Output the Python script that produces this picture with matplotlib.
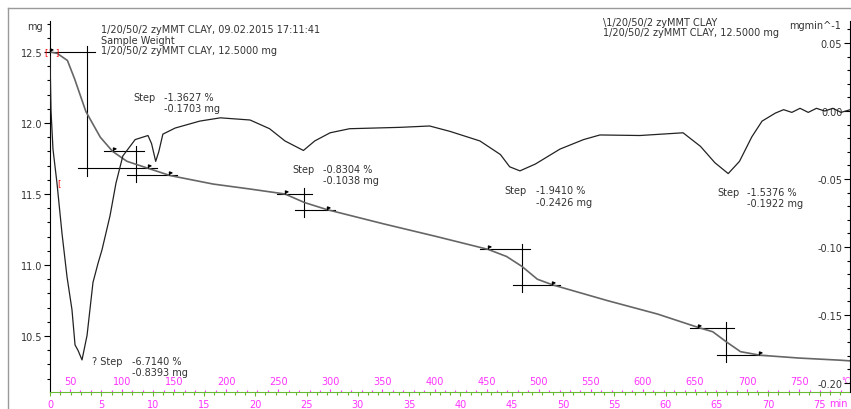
import numpy as np
import matplotlib.pyplot as plt
from matplotlib.ticker import MultipleLocator, FormatStrFormatter
from matplotlib.lines import Line2D
from matplotlib.path import Path

# sample mass (mg) against time (min)
tga_t = [0, 0.7, 1.7, 2.4, 3.5, 4.9, 6.1, 7.5, 9.6, 11.7, 15.9, 19.5, 22.9, 24.8,
         27.0, 32.5, 37.7, 42.7, 44.5, 46.0, 47.5, 49.0, 54.3, 59.2, 63.2, 64.6,
         65.9, 67.3, 69.2, 73.0, 77.0, 78.0]
tga_mg = [12.50, 12.49, 12.44, 12.31, 12.08, 11.90, 11.80, 11.73, 11.68, 11.63,
          11.57, 11.535, 11.50, 11.44, 11.39, 11.29, 11.20, 11.11, 11.06, 10.99,
          10.90, 10.86, 10.75, 10.655, 10.56, 10.53, 10.46, 10.39, 10.365, 10.345,
          10.33, 10.325]

# derivative curve (mg/min)
dtg_t = [0, 0.1, 0.29, 0.68, 1.17, 1.66, 2.14, 2.44, 2.73, 3.12, 3.61, 4.19, 4.68,
         5.07, 5.85, 6.43, 7.1, 7.6, 8.3, 9.55, 9.9, 10.3, 10.6, 11.0, 12.2, 14.6,
         16.6, 19.5, 21.4, 22.9, 24.7, 25.8, 27.3, 29.2, 34.1, 37.0, 39.0, 41.9,
         43.9, 44.8, 45.8, 47.3, 49.7, 52.0, 53.6, 57.5, 61.7, 63.4, 64.8, 66.1,
         67.2, 68.4, 69.4, 70.7, 71.5, 72.3, 73.1, 73.9, 74.7, 75.5, 76.3, 77.1, 78.0]
dtg_v = [0.04, 0.0, -0.028, -0.053, -0.09, -0.122, -0.146, -0.172, -0.176, -0.183,
         -0.165, -0.126, -0.112, -0.102, -0.077, -0.053, -0.033, -0.028, -0.021,
         -0.018, -0.024, -0.037, -0.030, -0.017, -0.0125, -0.0074, -0.005, -0.0066,
         -0.013, -0.022, -0.029, -0.022, -0.016, -0.013, -0.012, -0.011, -0.015,
         -0.022, -0.032, -0.041, -0.044, -0.039, -0.028, -0.021, -0.0176, -0.018,
         -0.016, -0.026, -0.038, -0.046, -0.037, -0.019, -0.0074, -0.0015, 0.001,
         -0.001, 0.002, -0.001, 0.002, 0.0, 0.002, -0.001, 0.001]

# evaluated steps: start, inflection and end times (min)
step_start = [0.0, 6.1, 22.9, 42.7, 63.2]
step_mid = [3.6, 8.4, 24.75, 46.0, 65.9]
step_end = [9.6, 11.6, 27.0, 48.9, 69.1]
step_prefix = ['? Step', 'Step', 'Step', 'Step', 'Step']
step_pct = ['-6.7140', '-1.3627', '-0.8304', '-1.9410', '-1.5376']
step_mass = ['-0.8393', '-0.1703', '-0.1038', '-0.2426', '-0.1922']
label_t = [4.1, 8.1, 23.6, 44.25, 65.0]
value_t = [8.0, 11.1, 26.6, 47.4, 67.9]
label_mg = [10.36, 12.22, 11.71, 11.56, 11.55]

# furnace temperature ticks
temp_ticks = list(range(50, 800, 50))
T0, rate = 30.8, 9.85

W, H = 851, 410
PINK = '#ff33ff'
GREEN = '#66bb33'
TXT = '#333333'
plt.rcParams['font.family'] = 'DejaVu Sans'

fig = plt.figure(figsize=(W / 100, H / 100), dpi=100)
ax = fig.add_axes([50 / W, 17 / H, 800 / W, 371 / H])
ax2 = ax.twinx()


def px(x, y):
    return x / W, 1 - y / H


# outer frame
fig.add_artist(Line2D([8 / W, 8 / W], [0, 1 - 9 / H], color='#999999', lw=1))
fig.add_artist(Line2D([8 / W, 1], [1 - 9 / H, 1 - 9 / H], color='#999999', lw=1))

ax.plot(tga_t, tga_mg, color='#666666', lw=1.2, zorder=3)
ax2.plot(dtg_t, dtg_v, color='#222222', lw=0.9)

ax.set_xlim(0, 77.97)
ax.set_ylim(10.106, 12.718)
ax2.set_ylim(-0.2066, 0.0662)

# step constructions
flag = Path([(0, 0), (0, 1), (0.7, 0.75), (0, 0.5)])
for i in range(len(step_start)):
    ms = np.interp(step_start[i], tga_t, tga_mg)
    me = np.interp(step_end[i], tga_t, tga_mg)
    ax.plot([step_start[i] - 0.8, step_mid[i] + 0.8], [ms, ms], color='black', lw=0.8)
    ax.plot([step_mid[i], step_mid[i]], [ms + 0.04, me - 0.05], color='black', lw=0.8)
    ax.plot([step_mid[i] - 0.9, step_end[i] + 0.8], [me, me], color='black', lw=0.8)
    ax.plot([step_start[i], step_end[i]], [ms, me], ls='none', marker=flag,
            ms=5, color='black', zorder=4, clip_on=False)
    ax.text(label_t[i], label_mg[i], step_prefix[i], fontsize=7, color=TXT, va='top')
    ax.text(value_t[i], label_mg[i], step_pct[i] + ' %\n' + step_mass[i] + ' mg',
            fontsize=7, color=TXT, va='top', linespacing=1.15)

# red limit marks
ax.text(-0.35, tga_mg[0], '[', color='red', fontsize=6, ha='center', va='center', clip_on=False)
ax.text(0.7, tga_mg[0], ']', color='red', fontsize=6, ha='center', va='center')
ax2.text(0.68, np.interp(0.68, dtg_t, dtg_v), '[', color='red', fontsize=6,
         ha='left', va='center')

# left axis
for s in ['top', 'right']:
    ax.spines[s].set_visible(False)
ax.spines['bottom'].set_color(GREEN)
ax.spines['left'].set_color('black')
ax.spines['left'].set_linewidth(0.8)
ax.yaxis.set_major_locator(MultipleLocator(0.5))
ax.yaxis.set_minor_locator(MultipleLocator(0.1))
ax.yaxis.set_major_formatter(FormatStrFormatter('%.1f'))
ax.tick_params(axis='y', which='major', length=4, width=0.8, pad=1.5,
               labelsize=7, labelcolor=TXT)
ax.tick_params(axis='y', which='minor', length=2.5, width=0.8)

# time axis
ax.xaxis.set_major_locator(MultipleLocator(5))
ax.xaxis.set_minor_locator(MultipleLocator(1))
ax.tick_params(axis='x', which='major', length=3, width=0.8, color=GREEN, pad=2,
               labelsize=7, labelcolor=PINK)
ax.tick_params(axis='x', which='minor', length=2, width=0.8, color=GREEN)

# temperature axis sitting on the time axis
sec = ax.secondary_xaxis(0.0, functions=(lambda t: T0 + rate * np.asarray(t),
                                         lambda T: (np.asarray(T) - T0) / rate))
sec.set_alignment('top')
sec.spines['top'].set_visible(False)
sec.spines['bottom'].set_visible(False)
sec.set_xticks(temp_ticks)
sec.xaxis.set_minor_locator(MultipleLocator(10))
sec.tick_params(axis='x', which='major', length=2.5, width=0.8, color=PINK, pad=1.5,
                labelsize=7, labelcolor=PINK)
sec.tick_params(axis='x', which='minor', length=1.8, width=0.8, color=PINK)

# right axis
for s in ['top', 'left', 'bottom']:
    ax2.spines[s].set_visible(False)
ax2.spines['right'].set_linewidth(0.8)
ax2.yaxis.set_major_locator(MultipleLocator(0.05))
ax2.yaxis.set_minor_locator(MultipleLocator(0.01))
ax2.yaxis.set_major_formatter(FormatStrFormatter('%.2f'))
ax2.tick_params(axis='y', which='major', direction='in', length=4, width=0.8,
                pad=-5.5, labelsize=7, labelcolor=TXT)
ax2.tick_params(axis='y', which='minor', direction='in', length=2.5, width=0.8)
plt.setp(ax2.get_yticklabels(), ha='right')

# unit labels
ax.annotate('min', xy=(1, 0), xycoords='axes fraction', xytext=(-2, -8),
            textcoords='offset points', ha='right', va='center', fontsize=7, color=PINK)
ax.annotate('°C', xy=(1, 0), xycoords='axes fraction', xytext=(0.3, 8),
            textcoords='offset points', ha='right', va='center', fontsize=5.5, color=PINK)
fig.text(*px(43, 27), 'mg', ha='right', va='center', fontsize=7, color=TXT)
fig.text(*px(841, 26), 'mgmin^-1', ha='right', va='center', fontsize=7, color=TXT)

# header texts
fig.text(*px(101, 30), '1/20/50/2 zyMMT CLAY, 09.02.2015 17:11:41', va='center', fontsize=7, color=TXT)
fig.text(*px(101, 41), 'Sample Weight', va='center', fontsize=7, color=TXT)
fig.text(*px(101, 51), '1/20/50/2 zyMMT CLAY, 12.5000 mg', va='center', fontsize=7, color=TXT)
fig.text(*px(603, 23), '\\1/20/50/2 zyMMT CLAY', va='center', fontsize=7, color=TXT)
fig.text(*px(603, 33), '1/20/50/2 zyMMT CLAY, 12.5000 mg', va='center', fontsize=7, color=TXT)

fig.savefig('out.png', dpi=100)
